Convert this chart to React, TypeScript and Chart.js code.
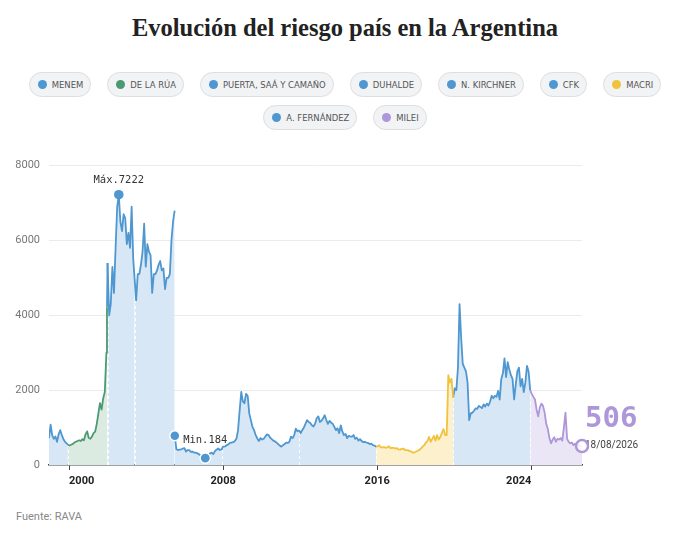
import React, { useEffect, useRef } from "react";
import { Chart, registerables } from "chart.js";

Chart.register(...registerables);

// ---------- colours ----------
const BLUE = "#4f97d0";
const BLUE_FILL = "#d8e7f5";
const GREEN = "#4c9a72";
const GREEN_FILL = "#dcebe2";
const YELLOW = "#f0c23e";
const YELLOW_FILL = "#fcf0cd";
const PURPLE = "#ae97d8";
const PURPLE_FILL = "#ebe6f6";

// ---------- labels ----------
const title = "Evolución del riesgo país en la Argentina";
const source = "Fuente: RAVA";
const legendNames = ["MENEM", "DE LA RÚA", "PUERTA, SAÁ Y CAMAÑO", "DUHALDE", "N. KIRCHNER", "CFK", "MACRI", "A. FERNÁNDEZ", "MILEI"];
const legendColors = [BLUE, GREEN, BLUE, BLUE, BLUE, BLUE, YELLOW, BLUE, PURPLE];
const xTickYears = [2000, 2008, 2016, 2024];
const yTickValues = [0, 2000, 4000, 6000, 8000];

// ---------- data (monthly readings, start given in decimal years) ----------
const STEP = 1 / 12;
const menemStart = 1998.96;
const menemValues = [720, 1080, 800, 700, 760, 620, 820, 930, 800, 690, 620, 580];
const delaRuaStart = 1999.94;
const delaRuaValues = [540, 520, 540, 560, 600, 620, 640, 660, 640, 690, 660, 820, 900, 720, 700, 760, 850, 890, 1100, 1380, 1650, 1480, 1780, 1950, 3000];
const puertaStart = 2001.97;
const puertaValues = [4200];
const duhaldeStart = 2002.0;
const duhaldeValues = [5400, 4000, 4300, 5290, 4600, 5800, 6900, 7222, 6500, 6250, 6700, 6600, 5900, 6200, 5800, 6900, 5500];
const kirchnerStart = 2003.4;
const kirchnerValues = [5000, 4400, 5100, 5100, 5350, 5700, 6450, 5300, 5900, 5700, 5600, 4600, 5100, 5100, 5200, 5350, 5450, 5200, 5250, 4700, 5000, 5000, 5100, 6000, 6500, 6800];
const swapStart = 2005.49;
const kirchnerPostSwapValues = [780, 420, 400, 410, 420, 440, 450, 360, 400, 400, 350, 360, 330, 330, 310, 290, 260, 240, 210, 184, 230, 260, 310, 330, 290, 370, 410, 440, 400, 420];
const cfk1Start = 2007.94;
const cfk1Values = [470, 490, 500, 530, 550, 590, 600, 610, 640, 700, 930, 1450, 1950, 1700, 1650, 1900, 1850, 1380, 1200, 1020, 930, 800, 710, 640, 720, 680, 700, 760, 820, 800, 730, 690, 650, 630, 600, 560, 520, 490, 530, 560, 600, 590, 620, 760, 720, 800, 970, 900];
const cfk2Start = 2011.94;
const cfk2Values = [930, 850, 930, 1000, 1100, 1200, 1150, 1120, 1060, 1030, 1100, 1250, 1300, 1150, 1180, 1250, 1330, 1200, 1100, 1180, 1130, 1100, 1020, 930, 980, 850, 1060, 890, 800, 830, 720, 780, 760, 760, 800, 700, 730, 650, 690, 640, 610, 620, 600, 590, 560, 570, 530, 520];
const macriStart = 2015.94;
const macriValues = [490, 500, 530, 470, 470, 480, 460, 470, 500, 450, 460, 460, 440, 450, 420, 410, 430, 440, 400, 400, 390, 370, 360, 330, 340, 360, 380, 410, 440, 490, 530, 600, 640, 750, 620, 700, 780, 650, 800, 680, 750, 860, 960, 800, 800, 2400, 2200, 2300];
const fernandezStart = 2019.94;
const fernandezValues = [1800, 2050, 2000, 2600, 4300, 3400, 2700, 2600, 2500, 2200, 1200, 1380, 1400, 1450, 1510, 1500, 1580, 1550, 1520, 1620, 1560, 1640, 1590, 1690, 1850, 1780, 1850, 1820, 1980, 1750, 2300, 2450, 2850, 2350, 2750, 2550, 2400, 2300, 1750, 2150, 2500, 2600, 2100, 2300, 1950, 2200, 2650, 2500];
const mileiStart = 2023.94;
const mileiValues = [2000, 1900, 1820, 1750, 1470, 1300, 1540, 1640, 1580, 1400, 1100, 960, 720, 580, 680, 740, 620, 700, 680, 720, 650, 1000, 1400, 700, 620, 580, 600, 530, 570, 500, 540, 490];
const lastDate = 2026.63;
const lastValue = 506;
const lastDateLabel = "18/08/2026";

type Pt = { x: number; y: number | null };
const toPoints = (start: number, values: number[]): Pt[] => values.map((v, i) => ({ x: start + i * STEP, y: v }));

const segments = [
  { points: toPoints(menemStart, menemValues), color: BLUE, fill: BLUE_FILL },
  { points: toPoints(delaRuaStart, delaRuaValues), color: GREEN, fill: GREEN_FILL },
  { points: toPoints(puertaStart, puertaValues), color: BLUE, fill: BLUE_FILL },
  { points: toPoints(duhaldeStart, duhaldeValues), color: BLUE, fill: BLUE_FILL },
  {
    points: [...toPoints(kirchnerStart, kirchnerValues), { x: swapStart - 0.003, y: null }, ...toPoints(swapStart, kirchnerPostSwapValues)],
    color: BLUE,
    fill: BLUE_FILL,
  },
  { points: toPoints(cfk1Start, cfk1Values), color: BLUE, fill: BLUE_FILL },
  { points: toPoints(cfk2Start, cfk2Values), color: BLUE, fill: BLUE_FILL },
  { points: toPoints(macriStart, macriValues), color: YELLOW, fill: YELLOW_FILL },
  { points: toPoints(fernandezStart, fernandezValues), color: BLUE, fill: BLUE_FILL },
  { points: [...toPoints(mileiStart, mileiValues), { x: lastDate, y: lastValue }], color: PURPLE, fill: PURPLE_FILL },
];

const annotationPlugin = {
  id: "annotations",
  beforeDatasetsDraw(chart: any) {
    const { ctx, scales } = chart;
    const xs = scales.x;
    const ys = scales.y;
    ctx.save();
    ctx.strokeStyle = "rgba(255,255,255,0.95)";
    ctx.lineWidth = 1;
    ctx.setLineDash([3, 3]);
    segments.forEach((s, i) => {
      if (i === 0) return;
      const p = s.points[0];
      const px = Math.round(xs.getPixelForValue(p.x)) + 0.5;
      ctx.beginPath();
      ctx.moveTo(px, ys.getPixelForValue(0));
      ctx.lineTo(px, ys.getPixelForValue(p.y as number));
      ctx.stroke();
    });
    ctx.restore();
  },
  afterDatasetsDraw(chart: any) {
    const { ctx, scales } = chart;
    const xs = scales.x;
    const ys = scales.y;
    const all: Pt[] = [];
    segments.forEach((s) => s.points.forEach((p) => p.y !== null && all.push(p)));
    let maxP = all[0];
    let minP = all[0];
    all.forEach((p) => {
      if ((p.y as number) > (maxP.y as number)) maxP = p;
      if ((p.y as number) < (minP.y as number)) minP = p;
    });
    const dot = (p: Pt, r: number, stroke: boolean) => {
      const px = xs.getPixelForValue(p.x);
      const py = ys.getPixelForValue(p.y as number);
      ctx.beginPath();
      ctx.arc(px, py, r, 0, Math.PI * 2);
      ctx.fillStyle = BLUE;
      ctx.fill();
      if (stroke) {
        ctx.lineWidth = 1.5;
        ctx.strokeStyle = "#ffffff";
        ctx.stroke();
      }
      return { px, py };
    };
    ctx.save();
    ctx.setLineDash([]);
    const swapP = { x: swapStart, y: kirchnerPostSwapValues[0] };
    dot(swapP, 5, true);
    const mx = dot(maxP, 4.8, false);
    const mn = dot(minP, 5.2, true);
    ctx.font = '10.5px "DejaVu Sans Mono", monospace';
    ctx.fillStyle = "#333";
    ctx.textAlign = "center";
    ctx.textBaseline = "middle";
    ctx.fillText("Máx." + maxP.y, mx.px, mx.py - 14);
    ctx.fillText("Min." + minP.y, mn.px, mn.py - 18);

    // last value
    const lx = xs.getPixelForValue(lastDate);
    const ly = ys.getPixelForValue(lastValue);
    ctx.font = 'bold 29px "DejaVu Sans Mono", monospace';
    ctx.fillStyle = PURPLE;
    ctx.textAlign = "left";
    ctx.textBaseline = "alphabetic";
    ctx.fillText(String(lastValue), lx + 3, ly - 19);
    ctx.font = '10px Roboto, sans-serif';
    ctx.fillStyle = "#444";
    ctx.textBaseline = "middle";
    ctx.fillText(lastDateLabel, lx + 3, ly - 1);
    ctx.beginPath();
    ctx.arc(lx, ly, 6, 0, Math.PI * 2);
    ctx.fillStyle = "rgba(255,255,255,0.85)";
    ctx.fill();
    ctx.lineWidth = 2.5;
    ctx.strokeStyle = PURPLE;
    ctx.stroke();
    ctx.restore();
  },
};

function ChartCanvas() {
  const ref = useRef<HTMLCanvasElement | null>(null);
  useEffect(() => {
    if (!ref.current) return;
    const datasets = segments.map((s, i) => {
      const next = segments[i + 1];
      const data = next ? [...s.points, next.points[0]] : [...s.points];
      return {
        data,
        borderColor: s.color,
        backgroundColor: s.fill,
        borderWidth: 1.8,
        pointRadius: 0,
        fill: "origin",
        tension: 0,
        spanGaps: false,
        borderJoinStyle: "round" as const,
      };
    });
    const chart = new Chart(ref.current, {
      type: "line",
      data: { datasets: datasets as any },
      options: {
        animation: false,
        responsive: false,
        parsing: false as any,
        normalized: true,
        layout: { padding: { top: 15, right: 118, left: 0, bottom: 0 } },
        plugins: {
          legend: { display: false },
          tooltip: { enabled: false },
          filler: { drawTime: "beforeDatasetsDraw" } as any,
        },
        scales: {
          x: {
            type: "linear",
            min: menemStart,
            max: lastDate,
            afterBuildTicks: (scale: any) => {
              scale.ticks = xTickYears.map((v) => ({ value: v }));
            },
            afterFit: (scale: any) => {
              scale.height = 30;
            },
            grid: { display: true, drawOnChartArea: false, drawTicks: true, tickLength: 5, color: "#444", lineWidth: 1 },
            border: { display: true, color: "#444", width: 1.5 },
            ticks: {
              align: "inner",
              padding: 5,
              autoSkip: false,
              maxRotation: 0,
              color: "#222",
              font: { family: "Roboto, sans-serif", size: 11, weight: "bold" },
              callback: (v: any) => String(v),
            },
          },
          y: {
            type: "linear",
            min: 0,
            max: 8000,
            afterBuildTicks: (scale: any) => {
              scale.ticks = yTickValues.map((v) => ({ value: v }));
            },
            afterFit: (scale: any) => {
              scale.width = 49;
            },
            grid: {
              drawTicks: false,
              color: (c: any) => (c.tick && c.tick.value === 0 ? "rgba(0,0,0,0)" : "#ebebeb"),
            },
            border: { display: false },
            ticks: {
              padding: 9,
              color: "#777",
              font: { family: "Roboto, sans-serif", size: 11 },
              callback: (v: any) => String(v),
            },
          },
        },
      },
      plugins: [annotationPlugin],
    });
    return () => chart.destroy();
  }, []);
  return <canvas ref={ref} width={700} height={345} style={{ position: "absolute", left: 0, top: 150, width: 700, height: 345 }} />;
}

export default function App() {
  return (
    <div style={{ position: "absolute", left: 0, top: 0, width: 700, height: 537, background: "#fff", overflow: "hidden" }}>
      <div
        style={{
          position: "absolute",
          top: 14,
          left: 0,
          width: 690,
          textAlign: "center",
          fontFamily: '"Liberation Serif", serif',
          fontWeight: "bold",
          fontSize: 24.5,
          lineHeight: "28px",
          color: "#222",
        }}
      >
        {title}
      </div>
      <div
        style={{
          position: "absolute",
          top: 72,
          left: 0,
          width: 690,
          display: "flex",
          flexWrap: "wrap",
          justifyContent: "center",
          columnGap: 16,
          rowGap: 8,
        }}
      >
        {legendNames.map((n, i) => (
          <div
            key={n}
            style={{
              height: 25,
              boxSizing: "border-box",
              border: "1px solid #dddee1",
              background: "#f2f3f5",
              borderRadius: 13,
              padding: "0 7px 0 8px",
              display: "flex",
              alignItems: "center",
              gap: 5,
            }}
          >
            <span style={{ width: 9, height: 9, borderRadius: "50%", background: legendColors[i], display: "inline-block", flex: "none" }} />
            <span
              style={{
                fontFamily: '"Liberation Sans Narrow", "Arial Narrow", "DejaVu Sans Condensed", sans-serif',
                fontSize: 9.4,
                color: "#555",
                whiteSpace: "nowrap",
              }}
            >
              {n}
            </span>
          </div>
        ))}
      </div>
      <ChartCanvas />
      <div
        style={{
          position: "absolute",
          left: 16,
          top: 510,
          fontFamily: "Roboto, sans-serif",
          fontSize: 11,
          lineHeight: "14px",
          color: "#888",
        }}
      >
        {source}
      </div>
    </div>
  );
}
